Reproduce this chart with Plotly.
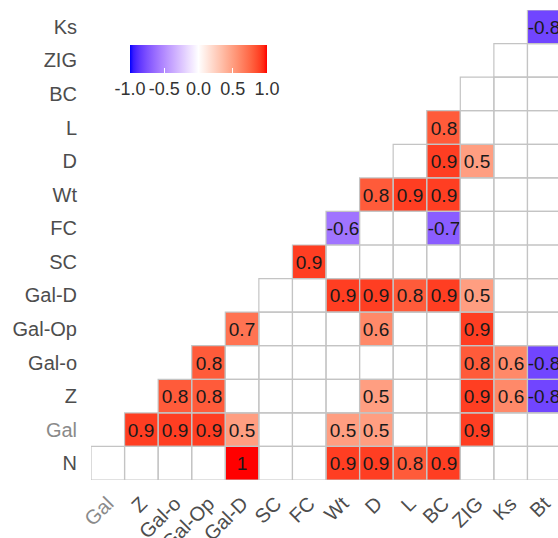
import numpy as np
import plotly.graph_objects as go

# Variables on each axis (rows listed bottom -> top)
row_labels = ["N", "Gal", "Z", "Gal-o", "Gal-Op", "Gal-D", "SC", "FC",
              "Wt", "D", "L", "BC", "ZIG", "Ks"]
col_labels = ["Gal", "Z", "Gal-o", "Gal-Op", "Gal-D", "SC", "FC", "Wt",
              "D", "L", "BC", "ZIG", "Ks", "Bt"]

_ = None  # non-significant / outside the lower triangle
corr_values = [
    # Gal  Z    Gal-o Gal-Op Gal-D SC  FC   Wt    D    L    BC    ZIG  Ks   Bt
    [_,   _,   _,   _,   1.0, _,   _,   0.9,  0.9, 0.8, 0.9,  _,   _,   _],     # N
    [_,   0.9, 0.9, 0.9, 0.5, _,   _,   0.5,  0.5, _,   _,    0.9, _,   _],     # Gal
    [_,   _,   0.8, 0.8, _,   _,   _,   _,    0.5, _,   _,    0.9, 0.6, -0.8],  # Z
    [_,   _,   _,   0.8, _,   _,   _,   _,    _,   _,   _,    0.8, 0.6, -0.8],  # Gal-o
    [_,   _,   _,   _,   0.7, _,   _,   _,    0.6, _,   _,    0.9, _,   _],     # Gal-Op
    [_,   _,   _,   _,   _,   _,   _,   0.9,  0.9, 0.8, 0.9,  0.5, _,   _],     # Gal-D
    [_,   _,   _,   _,   _,   _,   0.9, _,    _,   _,   _,    _,   _,   _],     # SC
    [_,   _,   _,   _,   _,   _,   _,   -0.6, _,   _,   -0.7, _,   _,   _],     # FC
    [_,   _,   _,   _,   _,   _,   _,   _,    0.8, 0.9, 0.9,  _,   _,   _],     # Wt
    [_,   _,   _,   _,   _,   _,   _,   _,    _,   _,   0.9,  0.5, _,   _],     # D
    [_,   _,   _,   _,   _,   _,   _,   _,    _,   _,   0.8,  _,   _,   _],     # L
    [_,   _,   _,   _,   _,   _,   _,   _,    _,   _,   _,    _,   _,   _],     # BC
    [_,   _,   _,   _,   _,   _,   _,   _,    _,   _,   _,    _,   _,   _],     # ZIG
    [_,   _,   _,   _,   _,   _,   _,   _,    _,   _,   _,    _,   _,   -0.8],  # Ks
]

colorbar_ticks = [-1.0, -0.5, 0.0, 0.5, 1.0]


# --- diverging blue / white / red scale, interpolated in CIELAB ---------
def _srgb_to_lab(rgb):
    c = np.array(rgb, dtype=float) / 255.0
    lin = np.where(c <= 0.04045, c / 12.92, ((c + 0.055) / 1.055) ** 2.4)
    m = np.array([[0.4124, 0.3576, 0.1805],
                  [0.2126, 0.7152, 0.0722],
                  [0.0193, 0.1192, 0.9505]])
    xyz = m @ lin / np.array([0.95047, 1.0, 1.08883])
    f = np.where(xyz > 0.008856, np.cbrt(xyz), 7.787 * xyz + 16 / 116)
    return np.array([116 * f[1] - 16, 500 * (f[0] - f[1]), 200 * (f[1] - f[2])])


def _lab_to_srgb(lab):
    L, a, b = lab
    fy = (L + 16) / 116
    f = np.array([fy + a / 500, fy, fy - b / 200])
    xyz = np.where(f ** 3 > 0.008856, f ** 3, (f - 16 / 116) / 7.787)
    xyz = xyz * np.array([0.95047, 1.0, 1.08883])
    m = np.array([[3.2406, -1.5372, -0.4986],
                  [-0.9689, 1.8758, 0.0415],
                  [0.0557, -0.2040, 1.0570]])
    lin = np.clip(m @ xyz, 0, 1)
    c = np.where(lin <= 0.0031308, 12.92 * lin, 1.055 * lin ** (1 / 2.4) - 0.055)
    r, g, bb = np.clip(np.round(c * 255), 0, 255).astype(int)
    return f"rgb({r},{g},{bb})"


low, mid, high = (_srgb_to_lab(c) for c in [(0, 0, 255), (255, 255, 255), (255, 0, 0)])
colorscale = []
for s in np.linspace(0, 1, 41):
    if s <= 0.5:
        t = s / 0.5
        lab = low + (mid - low) * t
    else:
        t = (s - 0.5) / 0.5
        lab = mid + (high - mid) * t
    colorscale.append([float(s), _lab_to_srgb(lab)])

# --- cell labels -----------------------------------------------------------
cell_text = [["" if v is None else ("%g" % v) for v in row] for row in corr_values]

font_family = "Liberation Sans, Arial, sans-serif"

fig = go.Figure()
fig.add_trace(go.Heatmap(
    z=corr_values,
    x=col_labels,
    y=row_labels,
    text=cell_text,
    texttemplate="%{text}",
    textfont=dict(size=19, color="#1a1a1a", family=font_family),
    colorscale=colorscale,
    zmin=-1, zmax=1,
    hoverinfo="skip",
    colorbar=dict(
        orientation="h",
        x=0.23, xanchor="center",
        y=0.9255, yanchor="top",
        lenmode="pixels", len=137,
        thicknessmode="pixels", thickness=28,
        xpad=0, ypad=0,
        outlinewidth=0,
        tickvals=colorbar_ticks,
        ticktext=["%.1f" % t for t in colorbar_ticks],
        ticks="inside", ticklen=5, tickcolor="white", tickwidth=1,
        tickfont=dict(size=18, color="#333333", family=font_family),
    ),
))

# Tile outlines for every cell of the lower triangle
shapes = []
for i in range(len(row_labels)):
    for j in range(len(col_labels)):
        if j >= i:
            shapes.append(dict(
                type="rect", xref="x", yref="y",
                x0=j - 0.5, x1=j + 0.5, y0=i - 0.5, y1=i + 0.5,
                line=dict(color="#C4C4C4", width=1.2),
                fillcolor="rgba(0,0,0,0)", layer="above",
            ))


def _tick(label):
    if label == "Gal":
        return '<span style="color:#8a8a8a">Gal</span>'
    return label


fig.update_layout(
    width=558, height=538,
    margin=dict(l=91, r=0, t=10, b=58, autoexpand=False),
    paper_bgcolor="white", plot_bgcolor="white",
    font=dict(family=font_family, color="#4D4D4D"),
    shapes=shapes,
    xaxis=dict(
        type="category",
        range=[-0.5, 13.41],
        tickmode="array",
        tickvals=col_labels,
        ticktext=[_tick(c) for c in col_labels],
        tickangle=-45,
        tickfont=dict(size=20, color="#4D4D4D"),
        showgrid=False, zeroline=False, showline=False,
        ticks="", ticklabelstandoff=7,
        automargin=False,
        fixedrange=True,
    ),
    yaxis=dict(
        type="category",
        range=[-0.5, 13.5],
        tickmode="array",
        tickvals=row_labels,
        ticktext=[_tick(r) for r in row_labels],
        tickfont=dict(size=20, color="#4D4D4D"),
        showgrid=False, zeroline=False, showline=False,
        ticks="", ticklabelstandoff=13,
        automargin=False,
        fixedrange=True,
    ),
)

fig.write_html("out.html")
